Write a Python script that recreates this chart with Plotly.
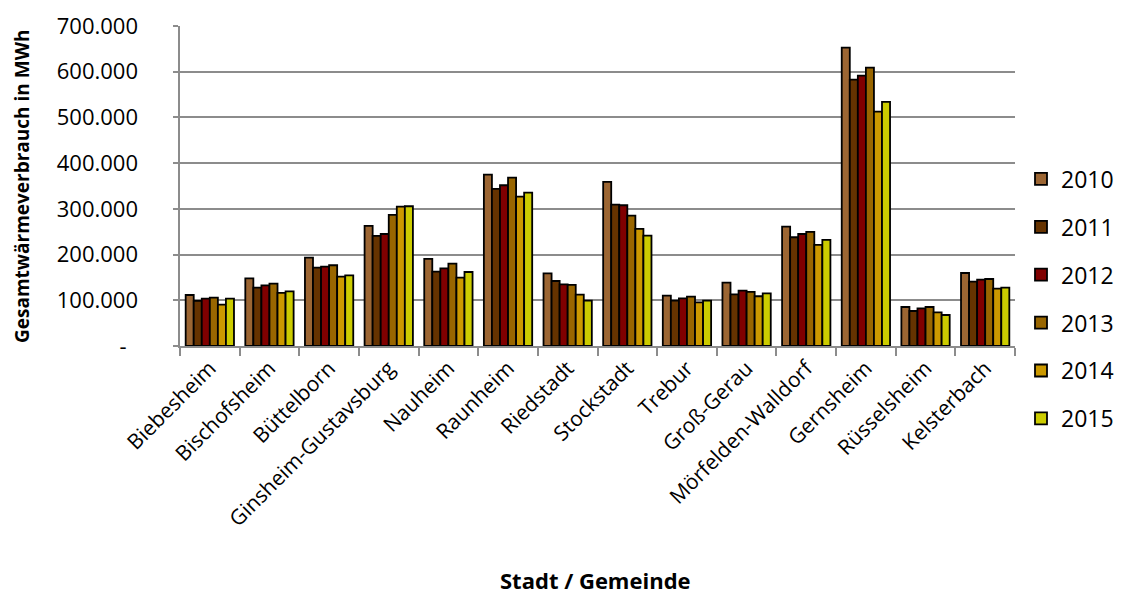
import plotly.graph_objects as go

# Heat consumption per municipality (MWh), 2010-2015
staedte = ["Biebesheim", "Bischofsheim", "Büttelborn", "Ginsheim-Gustavsburg",
           "Nauheim", "Raunheim", "Riedstadt", "Stockstadt", "Trebur",
           "Groß-Gerau", "Mörfelden-Walldorf", "Gernsheim", "Rüsselsheim",
           "Kelsterbach"]

jahre = ["2010", "2011", "2012", "2013", "2014", "2015"]

w2010 = [111600, 148000, 193200, 262600, 190400, 374800, 159000, 358900, 110000, 138500, 261000, 652700, 85300, 159700]
w2011 = [98500, 127600, 171300, 240700, 162600, 343500, 142200, 309200, 99100, 113100, 237900, 582700, 76600, 140700]
w2012 = [103500, 132800, 173500, 245000, 170000, 351600, 135000, 307900, 104300, 121000, 245000, 591500, 82500, 145100]
w2013 = [105700, 136300, 176600, 286700, 180100, 368300, 133500, 285100, 107900, 118200, 249500, 609000, 85300, 146600]
w2014 = [90400, 116000, 151600, 304800, 149500, 326700, 112300, 256000, 95600, 108800, 221000, 512700, 73700, 125400]
w2015 = [103500, 119700, 154700, 305700, 161900, 335400, 99100, 241400, 99100, 115300, 232000, 533900, 67800, 127600]

werte = [w2010, w2011, w2012, w2013, w2014, w2015]
farben = ["#9c6633", "#663300", "#800000", "#996600", "#cc9900", "#cccc00"]

y_ticks = [0, 100000, 200000, 300000, 400000, 500000, 600000, 700000]
y_labels = ["-", "100.000", "200.000", "300.000", "400.000", "500.000", "600.000", "700.000"]

FONT = "Open Sans"
GRID = "#8c8c8c"
NBSP = "\u00a0"

# accounting-style zero: the dash sits a little in from the right edge
y_text = [lbl + NBSP * 2 if lbl == "-" else lbl for lbl in y_labels]

# page geometry: labels column on the left, plot area starts at x=180
W, H = 1143, 594
ML, MR, MT, MB = 138, 128, 26, 248
PW = W - ML - MR
X0 = (180 - ML) / PW   # start of the bar area inside the paper


def px_x(px):
    return (px - ML) / PW


fig = go.Figure()
for jahr, vals, farbe in zip(jahre, werte, farben):
    fig.add_trace(go.Bar(
        x=staedte, y=vals, name=jahr,
        marker=dict(color=farbe, line=dict(color="#000000", width=1.8)),
        legendgroup=jahr,
    ))

# carrier for the value-label axis that sits left of the plot area
fig.add_trace(go.Scatter(x=[], y=[], yaxis="y2", showlegend=False, hoverinfo="skip"))

fig.update_layout(
    width=W, height=H, autosize=False,
    margin=dict(l=ML, r=MR, t=MT, b=MB, autoexpand=False),
    paper_bgcolor="white", plot_bgcolor="white",
    barmode="group", bargap=0.19, bargroupgap=0.0,
    font=dict(family=FONT, size=20, color="#000000"),
    showlegend=True,
    legend=dict(
        x=px_x(1021), xanchor="left", y=0.147, yanchor="middle",
        font=dict(family=FONT, size=23),
        traceorder="grouped", tracegroupgap=15,
        itemwidth=30,
    ),
    xaxis=dict(
        type="category", domain=[X0, 1],
        tickangle=-45,
        tickfont=dict(family=FONT, size=21),
        showline=True, linecolor=GRID, linewidth=1.5,
        ticks="outside", ticklen=8, tickcolor=GRID, tickwidth=1.5,
        tickson="boundaries",
        showgrid=False, automargin=False,
    ),
    yaxis=dict(
        range=[0, 700000],
        tickvals=y_ticks, showticklabels=False,
        showline=True, linecolor=GRID, linewidth=1.5,
        ticks="outside", ticklen=5, tickcolor=GRID, tickwidth=1.5,
        showgrid=True, gridcolor=GRID, gridwidth=1.5,
        zeroline=False, automargin=False,
    ),
    yaxis2=dict(
        overlaying="y", anchor="free", position=0, side="left",
        range=[0, 700000],
        tickvals=y_ticks, ticktext=y_text,
        tickfont=dict(family=FONT, size=22),
        showline=False, ticks="", showgrid=False, zeroline=False,
        automargin=False,
    ),
    annotations=[
        dict(text="<b>Gesamtwärmeverbrauch in MWh</b>", textangle=-90,
             xref="paper", yref="paper", x=px_x(22), y=0.5,
             xanchor="center", yanchor="middle", showarrow=False,
             font=dict(family=FONT, size=19)),
        dict(text="<b>Stadt / Gemeinde</b>",
             xref="paper", yref="paper", x=px_x(595), y=-(580 - 346) / 320,
             xanchor="center", yanchor="middle", showarrow=False,
             font=dict(family=FONT, size=22)),
    ],
)

fig.write_html("out.html")
